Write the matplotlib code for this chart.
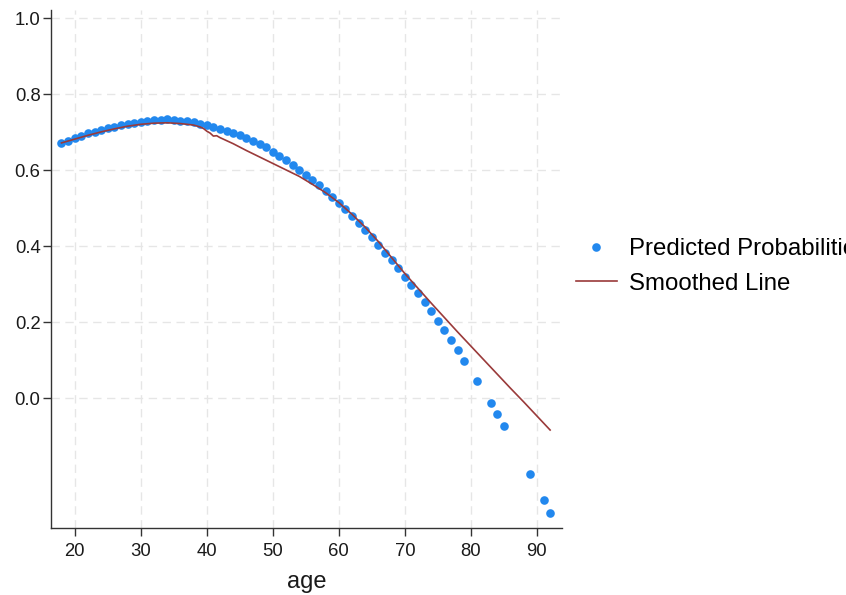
import numpy as np
import matplotlib.pyplot as plt
from matplotlib.lines import Line2D

plt.rcParams['font.family'] = ['Liberation Sans', 'DejaVu Sans']

# predicted probability by age
ages = [18, 19, 20, 21, 22, 23, 24, 25, 26, 27, 28, 29, 30, 31, 32, 33, 34, 35,
        36, 37, 38, 39, 40, 41, 42, 43, 44, 45, 46, 47, 48, 49, 50, 51, 52, 53,
        54, 55, 56, 57, 58, 59, 60, 61, 62, 63, 64, 65, 66, 67, 68, 69, 70, 71,
        72, 73, 74, 75, 76, 77, 78, 79, 81, 83, 84, 85, 89, 91, 92]
pred = [0.671, 0.678, 0.685, 0.691, 0.697, 0.702, 0.707, 0.711, 0.715, 0.719,
        0.722, 0.725, 0.728, 0.730, 0.732, 0.733, 0.734, 0.733, 0.731, 0.729,
        0.726, 0.722, 0.718, 0.714, 0.709, 0.704, 0.698, 0.692, 0.685, 0.677,
        0.669, 0.660, 0.649, 0.638, 0.626, 0.614, 0.601, 0.588, 0.574, 0.560,
        0.545, 0.530, 0.514, 0.497, 0.479, 0.461, 0.442, 0.423, 0.403, 0.383,
        0.363, 0.342, 0.320, 0.298, 0.276, 0.253, 0.229, 0.204, 0.179, 0.153,
        0.126, 0.099, 0.045, -0.013, -0.043, -0.074, -0.201, -0.269, -0.302]

# lowess smooth of the same predictions
smooth_age = [18, 20, 22, 24, 26, 28, 30, 32, 34, 36, 38, 39, 39.5, 40, 40.5,
              41, 41.5, 42, 44, 46, 48, 50, 52, 54, 56, 58, 60, 62, 64, 66, 68,
              70, 72, 74, 76, 78, 80, 82, 84, 86, 88, 90, 92]
smooth = [0.672, 0.682, 0.692, 0.701, 0.709, 0.716, 0.721, 0.724, 0.725, 0.723,
          0.719, 0.714, 0.710, 0.703, 0.698, 0.690, 0.691, 0.686, 0.670, 0.652,
          0.635, 0.618, 0.601, 0.584, 0.563, 0.541, 0.515, 0.484, 0.450, 0.412,
          0.370, 0.328, 0.289, 0.250, 0.212, 0.174, 0.137, 0.100, 0.063, 0.026,
          -0.010, -0.047, -0.084]

xticks = [20, 30, 40, 50, 60, 70, 80, 90]
yticks = [0.0, 0.2, 0.4, 0.6, 0.8, 1.0]

blue = '#2288ee'
red = '#9a3a3a'
ink = '#333333'

fig = plt.figure(figsize=(8.46, 5.95), dpi=100)
ax = fig.add_axes([51 / 846, 1 - 528 / 595, (562 - 51) / 846, (528 - 10) / 595])

ax.plot(ages, pred, 'o', color=blue, markersize=6.2, markeredgewidth=0,
        zorder=3)
ax.plot(smooth_age, smooth, color=red, lw=1.2, zorder=4)

ax.set_xlim(16.41, 93.8)
ax.set_ylim(-0.342, 1.022)
ax.set_xticks(xticks)
ax.set_yticks(yticks)
ax.set_yticklabels([f'{t:.1f}' for t in yticks])

for s in ['top', 'right']:
    ax.spines[s].set_visible(False)
for s in ['left', 'bottom']:
    ax.spines[s].set_color(ink)
    ax.spines[s].set_linewidth(1.0)

ax.tick_params(axis='both', length=6, width=1, color=ink, labelsize=13.3,
               labelcolor='#1a1a1a')
ax.tick_params(axis='x', pad=5)
ax.tick_params(axis='y', pad=1.5)
ax.grid(True, color='#e6e6e6', lw=1, ls=(0, (6, 4)), zorder=0)
ax.set_xlabel('age', fontsize=17, color='#1a1a1a', labelpad=8)

handles = [Line2D([], [], marker='o', ls='none', color=blue, markersize=6.2,
                  markeredgewidth=0),
           Line2D([], [], color=red, lw=1.2)]
fig.legend(handles, ['Predicted Probabilities', 'Smoothed Line'],
           loc='center left', bbox_to_anchor=(576 / 846, 1 - 266.5 / 595),
           frameon=False, fontsize=17.3, handlelength=1.7, handletextpad=0.5,
           labelspacing=0.5, borderpad=0, borderaxespad=0)

fig.savefig('out.png', dpi=100)
